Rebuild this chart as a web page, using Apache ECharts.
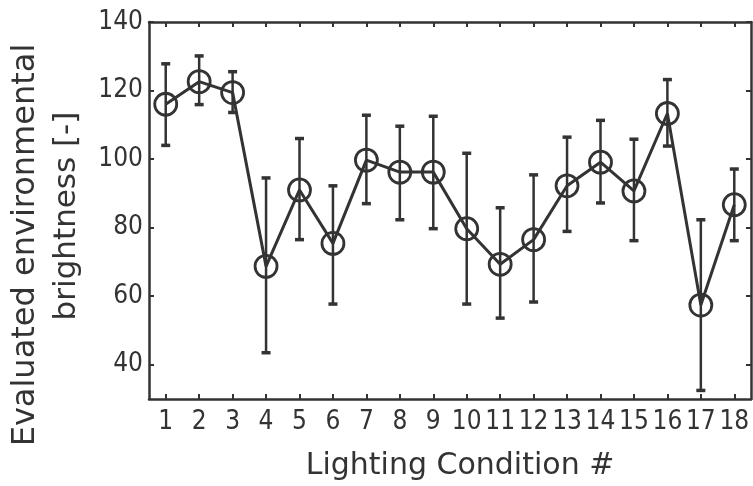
<!DOCTYPE html>
<html><head><meta charset="utf-8">
<script src="https://cdn.jsdelivr.net/npm/echarts@6/dist/echarts.min.js"></script>
<style>html,body{margin:0;padding:0;background:#fff}#c{width:753px;height:486px}</style>
</head><body><div id="c"></div>
<script>
const categories = ['1','2','3','4','5','6','7','8','9','10','11','12','13','14','15','16','17','18'];
const means = [116, 122.6, 119.4, 68.7, 91, 75.4, 99.7, 96.2, 96.2, 79.7, 69.3, 76.5, 92.2, 99.1, 90.7, 113.3, 57.4, 86.7];
const upper = [127.8, 130.1, 125.5, 94.5, 106, 92.2, 112.8, 109.6, 112.5, 101.7, 85.8, 95.4, 106.4, 111.3, 105.8, 123.2, 82.3, 97.1];
const lower = [104, 115.9, 113.6, 43.5, 76.5, 57.7, 87, 82.3, 79.7, 57.7, 53.6, 58.3, 78.9, 87.2, 76.2, 103.8, 32.5, 76.2];
const yTicks = [40, 60, 80, 100, 120, 140];
const xTitle = 'Lighting Condition #';
const yTitle1 = 'Evaluated environmental';
const yTitle2 = 'brightness [-]';

const FONT = 'DejaVu Sans Condensed, DejaVu Sans, sans-serif';
const TFONT = 'DejaVu Sans, sans-serif';
const C = '#333';
const errData = categories.map((c, i) => [i, lower[i], upper[i]]);

const chart = echarts.init(document.getElementById('c'), null, {renderer: 'canvas'});
chart.setOption({
  backgroundColor: '#fff',
  animation: false,
  grid: {left: 149, right: 2, top: 22, bottom: 84},
  xAxis: [{
    type: 'category', data: categories, position: 'bottom',
    axisLine: {show: true, lineStyle: {color: C, width: 2.5}},
    axisTick: {show: true, inside: true, alignWithLabel: true, interval: 0, length: 5, lineStyle: {color: C, width: 2}},
    axisLabel: {color: C, fontFamily: FONT, fontSize: 26, margin: 10, interval: 0},
    splitLine: {show: false},
    name: xTitle, nameLocation: 'middle', nameGap: 52,
    nameTextStyle: {color: C, fontFamily: TFONT, fontSize: 30, padding: [0, 0, 0, 20]}
  }, {
    type: 'category', data: categories, position: 'top',
    axisLine: {show: true, lineStyle: {color: C, width: 2.5}},
    axisTick: {show: true, inside: true, alignWithLabel: true, interval: 0, length: 5, lineStyle: {color: C, width: 2}},
    axisLabel: {show: false}
  }],
  yAxis: [{
    type: 'value', min: 30, max: 140, position: 'left',
    axisLine: {show: true, lineStyle: {color: C, width: 2.5}},
    axisTick: {show: true, inside: true, length: 5, customValues: yTicks, lineStyle: {color: C, width: 2}},
    axisLabel: {color: C, fontFamily: FONT, fontSize: 26, margin: 6, customValues: yTicks},
    splitLine: {show: false}
  }, {
    type: 'value', min: 30, max: 140, position: 'right',
    axisLine: {show: true, lineStyle: {color: C, width: 2.5}},
    axisTick: {show: true, inside: true, length: 5, customValues: yTicks, lineStyle: {color: C, width: 2}},
    axisLabel: {show: false},
    splitLine: {show: false}
  }],
  graphic: [
    {type: 'text', x: 26, y: 245, rotation: Math.PI / 2,
     style: {text: yTitle1, fill: C, font: '32px ' + TFONT, align: 'center', verticalAlign: 'middle'}},
    {type: 'text', x: 67, y: 216, rotation: Math.PI / 2,
     style: {text: yTitle2, fill: C, font: '31px ' + TFONT, align: 'center', verticalAlign: 'middle'}}
  ],
  series: [{
    type: 'custom', xAxisIndex: 0, yAxisIndex: 0, z: 3,
    data: errData,
    renderItem: function (params, api) {
      const x = api.value(0);
      const lo = api.coord([x, api.value(1)]);
      const hi = api.coord([x, api.value(2)]);
      const w = 4.5;
      const st = {stroke: C, lineWidth: 2.5, fill: null};
      return {type: 'group', children: [
        {type: 'line', shape: {x1: lo[0], y1: lo[1], x2: hi[0], y2: hi[1]}, style: st},
        {type: 'line', shape: {x1: lo[0] - w, y1: lo[1], x2: lo[0] + w, y2: lo[1]}, style: {stroke: C, lineWidth: 3.5}},
        {type: 'line', shape: {x1: hi[0] - w, y1: hi[1], x2: hi[0] + w, y2: hi[1]}, style: {stroke: C, lineWidth: 3.5}}
      ]};
    }
  }, {
    type: 'line', data: means, xAxisIndex: 0, yAxisIndex: 0, z: 4,
    symbol: 'circle', symbolSize: 22, showSymbol: true,
    lineStyle: {color: C, width: 3},
    itemStyle: {color: 'rgba(0,0,0,0)', borderColor: C, borderWidth: 2.8}
  }]
});
</script></body></html>
